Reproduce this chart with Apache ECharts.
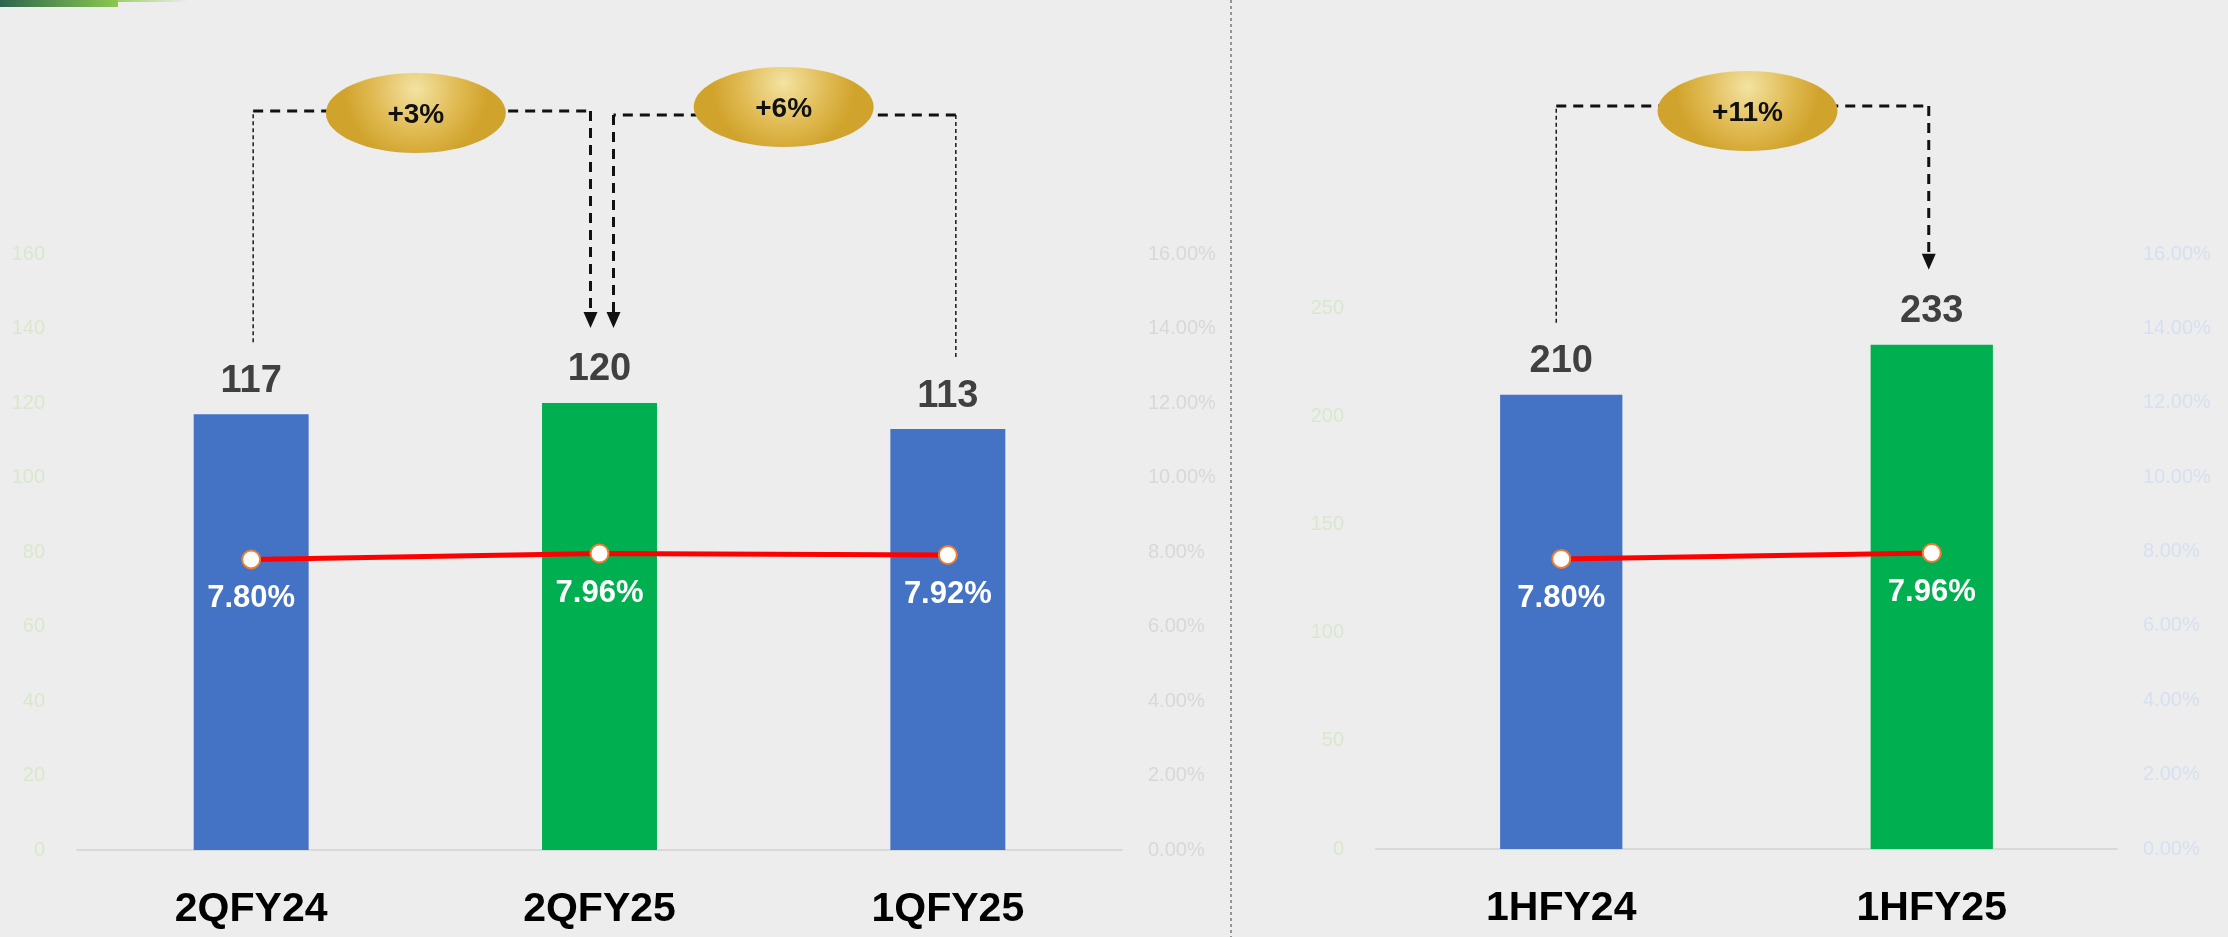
<!DOCTYPE html>
<html>
<head>
<meta charset="utf-8">
<title>NIM chart</title>
<script src="https://cdn.jsdelivr.net/npm/echarts@6/dist/echarts.min.js"></script>
<style>
  html, body { margin: 0; padding: 0; background: #ededed; }
  #main { width: 2228px; height: 937px; }
</style>
</head>
<body>
<div id="main"></div>
<script>
// quarterly comparison
const quarterCategories = ['2QFY24', '2QFY25', '1QFY25'];
const quarterValues = [117, 120, 113];
const quarterRatios = [7.80, 7.96, 7.92];

// half-year comparison
const halfCategories = ['1HFY24', '1HFY25'];
const halfValues = [210, 233];
const halfRatios = [7.80, 7.96];

// growth bubbles: [bar series, from index, to index]
const growthLabels = ['+3%', '+6%', '+11%'];
const growthPairs = [[0, 0, 1], [0, 2, 1], [2, 0, 1]];

const BLUE = '#4472C4';
const GREEN = '#00B050';
const quarterColors = [BLUE, GREEN, BLUE];
const halfColors = [BLUE, GREEN];

const FONT = '"Liberation Sans", Arial, sans-serif';

const chart = echarts.init(document.getElementById('main'));

function xAxisFor(grid, cats) {
  return {
    gridIndex: grid,
    type: 'category',
    data: cats,
    axisLine: { lineStyle: { color: '#d9d9d9', width: 2 } },
    axisTick: { length: 14, lineStyle: { color: '#d9d9d9', width: 2 } },
    axisLabel: { margin: 39, fontSize: 41, fontWeight: 'bold', color: '#000', fontFamily: FONT }
  };
}

function valueAxis(grid, pos, max, interval, color, margin, pct) {
  return {
    gridIndex: grid,
    type: 'value',
    position: pos,
    min: 0,
    max: max,
    interval: interval,
    splitLine: { show: false },
    axisLine: { show: false },
    axisTick: { show: false },
    axisLabel: {
      color: color,
      fontSize: 20,
      margin: margin,
      fontFamily: FONT,
      showMaxLabel: max % interval === 0,
      formatter: pct ? (v) => v.toFixed(2) + '%' : (v) => v
    }
  };
}

function barSeries(xi, yi, values, colors) {
  return {
    type: 'bar',
    xAxisIndex: xi,
    yAxisIndex: yi,
    data: values,
    barWidth: '33%',
    itemStyle: { color: (p) => colors[p.dataIndex] },
    label: {
      show: true,
      position: 'top',
      distance: 14,
      fontSize: 38,
      fontWeight: 'bold',
      color: '#404040',
      fontFamily: FONT
    }
  };
}

function ratioSeries(xi, yi, values) {
  return {
    type: 'line',
    xAxisIndex: xi,
    yAxisIndex: yi,
    data: values,
    z: 5,
    symbol: 'circle',
    symbolSize: 18,
    lineStyle: { color: '#FF0000', width: 5 },
    itemStyle: { color: '#ffffff', borderColor: '#ED7D31', borderWidth: 2 },
    label: {
      show: true,
      position: 'bottom',
      distance: 14,
      fontSize: 31,
      fontWeight: 'bold',
      color: '#ffffff',
      fontFamily: FONT,
      formatter: (p) => p.value.toFixed(2) + '%'
    }
  };
}

chart.setOption({
  animation: false,
  backgroundColor: 'transparent',
  grid: [
    { left: 77, top: 254, width: 1045, height: 596, containLabel: false, outerBoundsMode: 'none' },
    { left: 1376, top: 254, width: 741, height: 595, containLabel: false, outerBoundsMode: 'none' }
  ],
  xAxis: [xAxisFor(0, quarterCategories), xAxisFor(1, halfCategories)],
  yAxis: [
    valueAxis(0, 'left', 160, 20, '#d9e8cc', 32, false),
    valueAxis(0, 'right', 16, 2, '#d8d8d8', 26, true),
    valueAxis(1, 'left', 275, 50, '#d9e8cc', 32, false),
    valueAxis(1, 'right', 16, 2, '#d6e0f0', 26, true)
  ],
  series: [
    barSeries(0, 0, quarterValues, quarterColors),
    ratioSeries(0, 1, quarterRatios),
    barSeries(1, 2, halfValues, halfColors),
    ratioSeries(1, 3, halfRatios)
  ]
});

// connector layout (pixels): horizontal level, x shifts at the ends, bubble nudge
const connectorLayout = [
  { level: 111, srcDx: 2, dstDx: -9, bx: -6, by: 2 },
  { level: 115, srcDx: 8, dstDx: 14, bx: -1, by: -8 },
  { level: 106, srcDx: -5, dstDx: -3, bx: 5, by: 5 }
];

function drawAnnotations() {
  const g = [];
  const valuesOf = [quarterValues, null, halfValues];

  // top-left accent stripe
  g.push({
    type: 'rect', shape: { x: 0, y: 0, width: 118, height: 7 },
    style: { fill: { type: 'linear', x: 0, y: 0, x2: 1, y2: 0,
      colorStops: [{ offset: 0, color: '#2c654f' }, { offset: 1, color: '#8cc84f' }] } }
  });
  g.push({
    type: 'rect', shape: { x: 118, y: 0, width: 70, height: 2 },
    style: { fill: { type: 'linear', x: 0, y: 0, x2: 1, y2: 0,
      colorStops: [{ offset: 0, color: '#9dd068' }, { offset: 1, color: 'rgba(157,208,104,0)' }] } }
  });

  // divider between the two panels
  g.push({
    type: 'line', shape: { x1: 1231, y1: 0, x2: 1231, y2: 937 },
    style: { stroke: '#7a7a7a', lineWidth: 1.5, lineDash: [3, 3] }
  });

  growthPairs.forEach((pair, i) => {
    const [s, from, to] = pair;
    const vals = valuesOf[s];
    const lay = connectorLayout[i];
    const src = chart.convertToPixel({ seriesIndex: s }, [from, vals[from]]);
    const dst = chart.convertToPixel({ seriesIndex: s }, [to, vals[to]]);
    const sx = src[0] + lay.srcDx;
    const dx = dst[0] + lay.dstDx;
    const y = lay.level;
    const srcBottom = src[1] - 72;
    const tip = dst[1] - 75;

    // thin source line
    g.push({
      type: 'line', shape: { x1: sx, y1: srcBottom, x2: sx, y2: y },
      style: { stroke: '#1a1a1a', lineWidth: 1.5, lineDash: [4, 3] }
    });
    // horizontal run
    g.push({
      type: 'line', shape: { x1: sx, y1: y, x2: dx, y2: y },
      style: { stroke: '#111', lineWidth: 3, lineDash: [10, 7] }
    });
    // arrow shaft and head
    g.push({
      type: 'line', shape: { x1: dx, y1: y, x2: dx, y2: tip - 14 },
      style: { stroke: '#111', lineWidth: 3, lineDash: [10, 7] }
    });
    g.push({
      type: 'polygon', shape: { points: [[dx - 7, tip - 16], [dx + 7, tip - 16], [dx, tip]] },
      style: { fill: '#111' }
    });
    // bubble
    const cx = (sx + dx) / 2 + lay.bx;
    const cy = y + lay.by;
    g.push({
      type: 'ellipse', z: 10, shape: { cx: cx, cy: cy, rx: 90, ry: 40 },
      style: { fill: { type: 'radial', x: 0.5, y: 0.2, r: 0.9,
        colorStops: [
          { offset: 0, color: '#f3e3a3' },
          { offset: 0.6, color: '#e0ba52' },
          { offset: 1, color: '#d0a32c' }
        ] } }
    });
    g.push({
      type: 'text', z: 11,
      style: { text: growthLabels[i], x: cx, y: cy + 2, align: 'center', verticalAlign: 'middle',
        font: 'bold 28px ' + FONT, fill: '#111' }
    });
  });

  chart.setOption({ graphic: g });
}

drawAnnotations();
</script>
</body>
</html>
